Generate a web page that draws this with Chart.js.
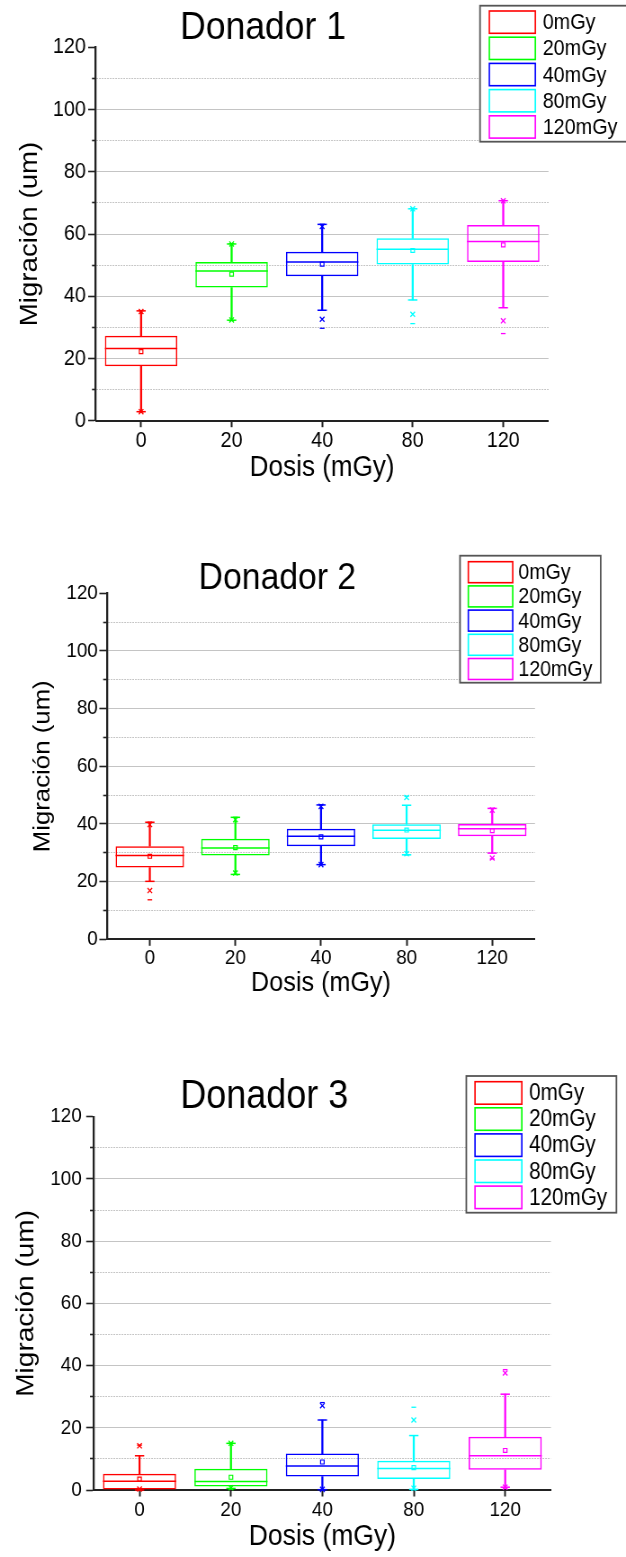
<!DOCTYPE html>
<html lang="es">
<head>
<meta charset="utf-8">
<title>Migración vs dosis</title>
<script src="https://cdn.jsdelivr.net/npm/chart.js@4.4.1/dist/chart.umd.min.js"></script>
<style>
    html, body { margin: 0; padding: 0; background: #fff; overflow: hidden; }
</style>
</head>
<body>
<canvas id="donador1" width="696" height="519" style="display:block;width:626px;height:519px"></canvas>
<canvas id="donador2" width="696" height="519" style="display:block;width:626px;height:519px"></canvas>
<canvas id="donador3" width="696" height="519" style="display:block;width:626px;height:519px"></canvas>
<script>
const FONT = "'Liberation Sans', Arial, sans-serif";
const CANVAS_W = 696;
const CANVAS_H = 519;
// the original text looks a bit condensed, so the canvas is squeezed horizontally
const SX = 626 / CANVAS_W;

const doses = ["0", "20", "40", "80", "120"];
const legendLabels = ["0mGy", "20mGy", "40mGy", "80mGy", "120mGy"];
const doseColors = ["#ff0000", "#00ff00", "#0000ff", "#00ffff", "#ff00ff"];
const yMin = 0;
const yMax = 120;
const yStep = 10;
const yLabelStep = 20;

// Donador 1
const d1Q1 = [17.5, 42.8, 46.4, 50.2, 51.0];
const d1Median = [23.2, 48.1, 51.0, 55.1, 57.6];
const d1Q3 = [27.3, 51.0, 54.3, 58.6, 62.9];
const d1Mean = [22.2, 47.1, 50.3, 54.7, 56.5];
const d1WhiskerLow = [2.9, 32.3, 35.5, 38.8, 36.3];
const d1WhiskerHigh = [35.3, 56.8, 63.1, 68.1, 70.7];
const d1P1 = [2.9, 32.4, 32.6, 34.2, 32.1];
const d1P99 = [35.1, 56.8, 62.4, 68.1, 70.7];
const d1Min = [2.8, 32.2, 29.7, 31.2, 28.0];
const d1Max = [35.3, 56.9, 63.1, 68.2, 70.8];

// Donador 2
const d2Q1 = [24.9, 29.1, 32.3, 34.8, 35.7];
const d2Median = [29.1, 31.7, 35.7, 37.8, 38.3];
const d2Q3 = [32.3, 34.9, 38.3, 39.9, 40.0];
const d2Mean = [28.8, 31.8, 35.5, 37.9, 37.7];
const d2WhiskerLow = [20.1, 22.5, 25.9, 29.3, 29.9];
const d2WhiskerHigh = [40.6, 42.3, 46.6, 46.5, 45.4];
const d2P1 = [16.9, 23.0, 25.9, 29.7, 28.2];
const d2P99 = [39.8, 41.5, 46.1, 49.2, 44.8];
const d2Min = [13.7, 22.5, 25.9, 29.3, 27.9];
const d2Max = [40.6, 42.3, 46.6, 49.6, 45.4];

// Donador 3
const d3Q1 = [0.2, 1.1, 4.3, 3.5, 6.5];
const d3Median = [2.8, 2.7, 7.7, 6.9, 11.0];
const d3Q3 = [5.2, 6.8, 11.7, 9.4, 17.1];
const d3Mean = [3.5, 4.1, 9.0, 7.2, 12.7];
const d3WhiskerLow = [0.0, 0.5, 0.1, 0.2, 0.9];
const d3WhiskerHigh = [11.0, 15.0, 22.5, 17.5, 30.8];
const d3P1 = [0.3, 0.7, 0.2, 0.6, 0.9];
const d3P99 = [14.2, 15.0, 27.1, 22.5, 37.6];
const d3Min = [0.0, 0.3, 0.0, 0.1, 0.6];
const d3Max = [14.4, 15.1, 28.1, 26.6, 38.7];

// layout values are in page pixels (x gets divided by SX later)
const panelConfigurations = [
    {
        elementId: "donador1",
        title: "Donador 1", titleX: 263, titleY: 28, titleSize: 39.5,
        plot: { left: 95.8, right: 548.5, top: 47.3, bottom: 420.7 },
        yTitleX: 30, yTitleSize: 27.7, yTickGap: 10, tickSize: 22,
        xTickCenter: 20.5, xTitleY: 468, xTitleSize: 29,
        legend: { left: 480, right: 628, top: 5.7, bottom: 141.7, swatchLeft: 489.3, swatchRight: 535.3,
                  firstTop: 11, step: 26.2, swatchHeight: 22.3, textX: 542.7, fontSize: 22 },
        stats: { q1: d1Q1, median: d1Median, q3: d1Q3, mean: d1Mean, whiskerLow: d1WhiskerLow,
                 whiskerHigh: d1WhiskerHigh, p1: d1P1, p99: d1P99, min: d1Min, max: d1Max }
    },
    {
        elementId: "donador2",
        title: "Donador 2", titleX: 277.4, titleY: 60, titleSize: 37.5,
        plot: { left: 107, right: 535, top: 74.3, bottom: 420.3 },
        yTitleX: 43, yTitleSize: 25.8, yTickGap: 9.2, tickSize: 21,
        xTickCenter: 18.7, xTitleY: 464, xTitleSize: 28,
        legend: { left: 460, right: 600.7, top: 36.7, bottom: 163.7, swatchLeft: 468.3, swatchRight: 512.7,
                  firstTop: 42.7, step: 24.2, swatchHeight: 21, textX: 518.3, fontSize: 21.8 },
        stats: { q1: d2Q1, median: d2Median, q3: d2Q3, mean: d2Mean, whiskerLow: d2WhiskerLow,
                 whiskerHigh: d2WhiskerHigh, p1: d2P1, p99: d2P99, min: d2Min, max: d2Max }
    },
    {
        elementId: "donador3",
        title: "Donador 3", titleX: 264.3, titleY: 59, titleSize: 40,
        plot: { left: 93.8, right: 550.9, top: 78.7, bottom: 452 },
        yTitleX: 26, yTitleSize: 28, yTickGap: 12, tickSize: 21,
        xTickCenter: 20, xTitleY: 499, xTitleSize: 29.5,
        legend: { left: 466.3, right: 616.4, top: 38, bottom: 174.7, swatchLeft: 475, swatchRight: 521.8,
                  firstTop: 43.7, step: 26.1, swatchHeight: 22.5, textX: 529, fontSize: 23 },
        stats: { q1: d3Q1, median: d3Median, q3: d3Q3, mean: d3Mean, whiskerLow: d3WhiskerLow,
                 whiskerHigh: d3WhiskerHigh, p1: d3P1, p99: d3P99, min: d3Min, max: d3Max }
    }
];

const Y_TICK_LEN = 8.5;
const X_TICK_LEN = 6.5;
const BOX_FRACTION = 0.8;

// title and framed legend drawn on top, the legend overlaps the plot like in Origin
const panelDecor = {
    id: "panelDecor",
    afterDraw(chart, args, opts) {
        const ctx = chart.ctx;
        ctx.save();
        ctx.fillStyle = "#000";
        ctx.font = `${opts.titleSize}px ${FONT}`;
        ctx.textAlign = "center";
        ctx.textBaseline = "middle";
        ctx.fillText(opts.title, opts.titleX / SX, opts.titleY);

        const lg = opts.legend;
        const lx = lg.left / SX;
        const lw = (lg.right - lg.left) / SX;
        ctx.fillStyle = "#fff";
        ctx.fillRect(lx, lg.top, lw, lg.bottom - lg.top);
        ctx.strokeStyle = "#555";
        ctx.lineWidth = 1.8;
        ctx.strokeRect(lx, lg.top, lw, lg.bottom - lg.top);

        ctx.font = `${lg.fontSize}px ${FONT}`;
        ctx.textAlign = "left";
        legendLabels.forEach((label, i) => {
            const top = lg.firstTop + i * lg.step;
            ctx.strokeStyle = doseColors[i];
            ctx.lineWidth = 1.6;
            ctx.strokeRect(lg.swatchLeft / SX, top, (lg.swatchRight - lg.swatchLeft) / SX, lg.swatchHeight);
            ctx.fillStyle = "#000";
            ctx.fillText(label, lg.textX / SX, top + lg.swatchHeight / 2 + 1);
        });
        ctx.restore();
    }
};

function boxHalfWidth(context) {
    const xScale = context.chart.scales.x;
    if (!xScale) {
        return 30;
    }
    return xScale.width / doses.length * BOX_FRACTION / 2;
}

function marker(data, style, radius, width) {
    return {
        type: "line",
        data: data,
        showLine: false,
        clip: false,
        pointStyle: style,
        pointRadius: radius,
        pointBorderColor: doseColors,
        pointBackgroundColor: "rgba(0,0,0,0)",
        pointBorderWidth: width || 1.3
    };
}

function buildDatasets(s) {
    const boxes = {
        type: "bar",
        data: s.q1.map((v, i) => [v, s.q3[i]]),
        backgroundColor: "rgba(0,0,0,0)",
        borderColor: doseColors,
        borderWidth: 1.5,
        borderSkipped: false,
        grouped: false,
        barPercentage: BOX_FRACTION,
        categoryPercentage: 1
    };
    const whiskerLow = {
        type: "bar",
        data: s.whiskerLow.map((v, i) => [v, s.q1[i]]),
        backgroundColor: doseColors,
        borderWidth: 0,
        grouped: false,
        barThickness: 1.6
    };
    const whiskerHigh = {
        type: "bar",
        data: s.q3.map((v, i) => [v, s.whiskerHigh[i]]),
        backgroundColor: doseColors,
        borderWidth: 0,
        grouped: false,
        barThickness: 1.6
    };
    return [
        marker(s.median, "line", boxHalfWidth, 1.5),
        marker(s.whiskerLow, "line", 5.2, 1.5),
        marker(s.whiskerHigh, "line", 5.2, 1.5),
        marker(s.mean, "rect", 2.8, 1.2),
        marker(s.p1, "crossRot", 3.6),
        marker(s.p99, "crossRot", 3.6),
        marker(s.min, "line", 2.6),
        marker(s.max, "line", 2.6),
        boxes,
        whiskerLow,
        whiskerHigh
    ];
}

function isMinor(context) {
    return context.tick && context.tick.value % yLabelStep !== 0;
}

function renderPanel(config) {
    const canvas = document.getElementById(config.elementId);
    if (!canvas) {
        return;
    }
    const plot = config.plot;
    const tickLine = config.tickSize * 1.2;

    new Chart(canvas, {
        type: "bar",
        data: {
            labels: doses,
            datasets: buildDatasets(config.stats)
        },
        options: {
            responsive: false,
            devicePixelRatio: 1,
            animation: false,
            events: [],
            layout: {
                padding: { left: 0, right: CANVAS_W - plot.right / SX, top: plot.top, bottom: 0 }
            },
            plugins: {
                legend: { display: false },
                tooltip: { enabled: false },
                panelDecor: {
                    title: config.title,
                    titleX: config.titleX,
                    titleY: config.titleY,
                    titleSize: config.titleSize,
                    legend: config.legend
                }
            },
            scales: {
                x: {
                    type: "category",
                    offset: true,
                    afterFit: scale => { scale.height = CANVAS_H - plot.bottom; },
                    grid: {
                        offset: false,
                        drawOnChartArea: false,
                        drawTicks: true,
                        tickLength: X_TICK_LEN,
                        tickWidth: 2,
                        tickColor: "#222"
                    },
                    border: { display: true, color: "#222", width: 2 },
                    ticks: {
                        color: "#000",
                        padding: config.xTickCenter - X_TICK_LEN - tickLine / 2,
                        font: { family: FONT, size: config.tickSize },
                        maxRotation: 0,
                        autoSkip: false
                    },
                    title: {
                        display: true,
                        text: "Dosis (mGy)",
                        color: "#000",
                        font: { family: FONT, size: config.xTitleSize },
                        padding: { top: 0, bottom: (CANVAS_H - config.xTitleY) - config.xTitleSize * 0.6 }
                    }
                },
                y: {
                    type: "linear",
                    min: yMin,
                    max: yMax,
                    afterFit: scale => { scale.width = plot.left / SX; },
                    grid: {
                        color: context => {
                            const v = context.tick ? context.tick.value : 0;
                            if (v === yMin || v === yMax) {
                                return "rgba(0,0,0,0)";
                            }
                            return v % yLabelStep === 0 ? "#c4c4c4" : "#b4b4b4";
                        },
                        lineWidth: 1,
                        drawTicks: true,
                        tickLength: Y_TICK_LEN,
                        tickWidth: 1.6,
                        tickColor: "#222",
                        // minor ticks: skip the outer half so only the part at the axis shows
                        tickBorderDash: context => isMinor(context) ? [Y_TICK_LEN / 2, Y_TICK_LEN / 2] : [],
                        tickBorderDashOffset: context => isMinor(context) ? Y_TICK_LEN / 2 : 0
                    },
                    border: {
                        display: true,
                        color: "#222",
                        width: 2.3,
                        dash: context => isMinor(context) ? [1.5, 1.5] : []
                    },
                    ticks: {
                        stepSize: yStep,
                        color: "#000",
                        padding: config.yTickGap / SX - Y_TICK_LEN,
                        font: { family: FONT, size: config.tickSize },
                        autoSkip: false,
                        callback: value => (value % yLabelStep === 0 ? value : "")
                    },
                    title: {
                        display: true,
                        text: "Migración (um)",
                        color: "#000",
                        font: { family: FONT, size: config.yTitleSize },
                        padding: { top: config.yTitleX / SX - config.yTitleSize * 0.6, bottom: 0 }
                    }
                }
            }
        },
        plugins: [panelDecor]
    });
}

panelConfigurations.forEach(renderPanel);
</script>
</body>
</html>
